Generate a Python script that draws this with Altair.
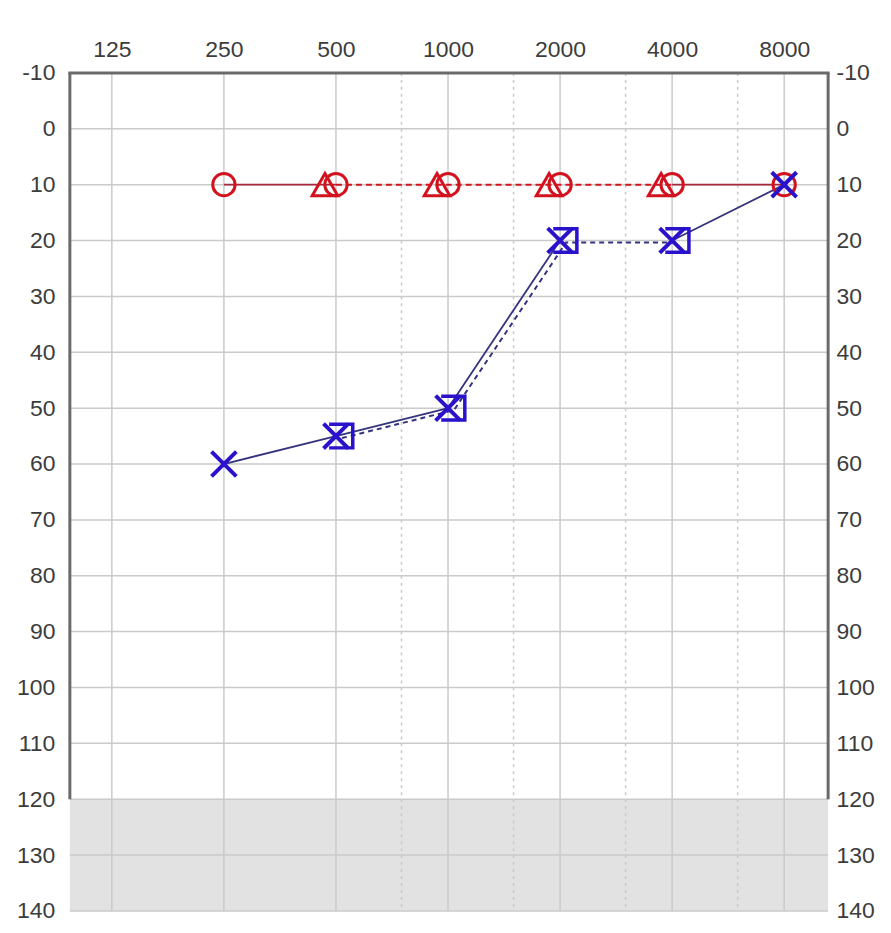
import altair as alt
import pandas as pd

# ---- axis ticks ----
freq_ticks = [125, 250, 500, 1000, 2000, 4000, 8000]
half_octaves = [750, 1500, 3000, 6000]
db_ticks = [-10, 0, 10, 20, 30, 40, 50, 60, 70, 80, 90, 100, 110, 120, 130, 140]

# ---- data (dB HL) ----
freqs = [250, 500, 1000, 2000, 4000, 8000]
right_air = [10, 10, 10, 10, 10, 10]          # O
right_masked_freqs = [500, 1000, 2000, 4000]
right_masked = [10, 10, 10, 10]               # triangle
left_air = [60, 55, 50, 20, 20, 10]           # X
left_masked_freqs = [500, 1000, 2000, 4000]
left_masked = [55, 50, 20, 20]                # square

right_solid_pairs = [(250, 500), (4000, 8000)]
left_solid_pairs = [(250, 500), (500, 1000), (1000, 2000), (4000, 8000)]

W, H = 760, 840
FONT = "Liberation Sans"
FS = 23
LC = "#3c3c3c"
RED = "#d2121e"
RED_LINE = "#a8283a"
BLUE = "#2a12cc"
BLUE_LINE = "#34347e"
GRID = "#cacaca"
FRAME = "#6a6a6a"

xscale = alt.Scale(type="log", base=2, domain=[96.4, 10499], nice=False)
yscale = alt.Scale(domain=[-10, 140], reverse=True, nice=False, zero=False)

common = dict(labelFont=FONT, labelFontSize=FS, labelColor=LC, ticks=False, tickSize=0,
              domain=False, grid=False, title=None, labelFlush=False, labelOverlap=False,
              labelExpr="'' + datum.value")
xaxis = alt.Axis(orient="top", values=freq_ticks, labelPadding=11, **common)
yaxis_left = alt.Axis(orient="left", values=db_ticks, labelPadding=15, **common)
yaxis_right = alt.Axis(orient="right", values=db_ticks, labelPadding=8, **common)


def X(field):
    return alt.X(f"{field}:Q", scale=xscale, axis=xaxis)


def Y(field, axis=None):
    return alt.Y(f"{field}:Q", scale=yscale, axis=axis)


def seg_df(pairs, fx, vals):
    lookup = dict(zip(fx, vals))
    rows = []
    for i, (a, b) in enumerate(pairs):
        rows.append({"freq": a, "db": lookup[a], "seg": i})
        rows.append({"freq": b, "db": lookup[b], "seg": i})
    return pd.DataFrame(rows)


df_db = pd.DataFrame({"db": db_ticks})
df_f = pd.DataFrame({"freq": freq_ticks})
df_half = pd.DataFrame({"freq": half_octaves})
df_right = pd.DataFrame({"freq": freqs, "db": right_air})
df_right_m = pd.DataFrame({"freq": right_masked_freqs, "db": right_masked})
df_left = pd.DataFrame({"freq": freqs, "db": left_air})
df_left_m = pd.DataFrame({"freq": left_masked_freqs, "db": left_masked})
df_shade = pd.DataFrame({"y": [120], "y2": [140]})
df_frame = pd.DataFrame({"top": [-10], "bot": [120]})

shade = alt.Chart(df_shade).mark_rect(color="#e2e2e2").encode(
    x=alt.value(0), x2=alt.value(W), y=Y("y"), y2="y2:Q")

hgrid = alt.Chart(df_db).mark_rule(color=GRID, strokeWidth=1.5).encode(
    y=Y("db", yaxis_left), x=alt.value(0), x2=alt.value(W))

right_axis = alt.Chart(df_db).mark_rule(opacity=0).encode(
    y=Y("db", yaxis_right), x=alt.value(0), x2=alt.value(W))

vgrid = alt.Chart(df_f).mark_rule(color=GRID, strokeWidth=1.5).encode(
    x=X("freq"), y=alt.value(0), y2=alt.value(H))

vdash = alt.Chart(df_half).mark_rule(color=GRID, strokeWidth=1.5, strokeDash=[3, 4]).encode(
    x=X("freq"), y=alt.value(0), y2=alt.value(H))

frame_top = alt.Chart(df_frame).mark_rule(color=FRAME, strokeWidth=3, strokeCap="square").encode(
    x=alt.value(0), x2=alt.value(W), y=alt.value(0))
frame_left = alt.Chart(df_frame).mark_rule(color=FRAME, strokeWidth=3).encode(
    x=alt.value(0), y=Y("top"), y2="bot:Q")
frame_right = alt.Chart(df_frame).mark_rule(color=FRAME, strokeWidth=3).encode(
    x=alt.value(W), y=Y("top"), y2="bot:Q")

red_solid = alt.Chart(seg_df(right_solid_pairs, freqs, right_air)).mark_line(
    color=RED_LINE, strokeWidth=1.8).encode(x=X("freq"), y=Y("db"), detail="seg:N")
red_dash = alt.Chart(df_right_m).mark_line(
    color=RED, strokeWidth=2, strokeDash=[6, 4]).encode(x=X("freq"), y=Y("db"))

blue_solid = alt.Chart(seg_df(left_solid_pairs, freqs, left_air)).mark_line(
    color=BLUE_LINE, strokeWidth=1.8).encode(x=X("freq"), y=Y("db"), detail="seg:N")
blue_dash = alt.Chart(df_left_m).mark_line(
    color=BLUE_LINE, strokeWidth=2, strokeDash=[5, 4], xOffset=6, yOffset=2).encode(
    x=X("freq"), y=Y("db"))

red_o = alt.Chart(df_right).mark_point(
    shape="circle", filled=False, size=500, strokeWidth=3, color=RED, opacity=1).encode(
    x=X("freq"), y=Y("db"))
red_tri = alt.Chart(df_right_m).mark_point(
    shape="triangle-up", filled=False, size=660, strokeWidth=3, color=RED, opacity=1,
    xOffset=-11).encode(x=X("freq"), y=Y("db"))

blue_sq = alt.Chart(df_left_m).mark_point(
    shape="M-1,-1L1,-1L1,1L-1,1", filled=False, size=560, strokeWidth=3.5, color=BLUE,
    opacity=1, xOffset=5).encode(x=X("freq"), y=Y("db"))
blue_x = alt.Chart(df_left).mark_point(
    shape="M-1,-1L1,1M1,-1L-1,1", filled=False, size=620, strokeWidth=4, color=BLUE,
    opacity=1).encode(x=X("freq"), y=Y("db"))

chart = alt.layer(
    shade, hgrid, vgrid, vdash, frame_top, frame_left, frame_right, right_axis,
    red_solid, red_dash, blue_solid, blue_dash,
    red_tri, red_o, blue_sq, blue_x,
).resolve_scale(y="independent").properties(
    width=W, height=H,
    autosize=alt.AutoSizeParams(type="none"),
    padding={"left": 62, "top": 64, "right": 55, "bottom": 12},
).configure_view(stroke=None)

chart.save("out.html", embed_options={"renderer": "svg", "actions": False})
